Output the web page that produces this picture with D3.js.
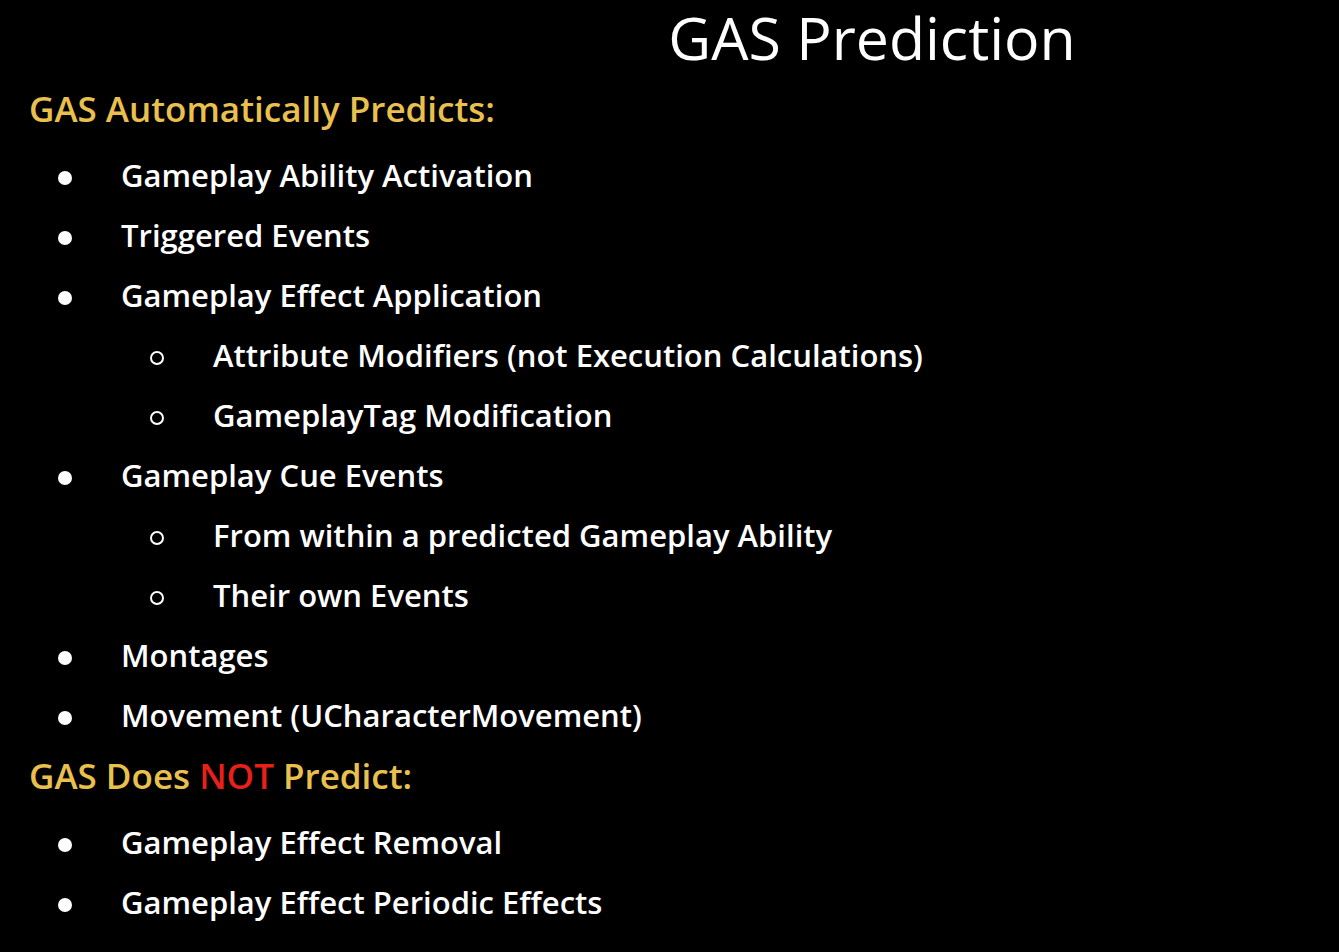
<!DOCTYPE html>
<html><head><meta charset="utf-8">
<script src="https://cdn.jsdelivr.net/npm/d3@7"></script>
<style>body{margin:0;background:#000}svg{display:block}</style>
</head><body>
<script>
const title = "GAS Prediction";
const header1 = ["GAS Automatically Predicts:"];
const items1 = [
  [0,"Gameplay Ability Activation"],
  [0,"Triggered Events"],
  [0,"Gameplay Effect Application"],
  [1,"Attribute Modifiers (not Execution Calculations)"],
  [1,"GameplayTag Modification"],
  [0,"Gameplay Cue Events"],
  [1,"From within a predicted Gameplay Ability"],
  [1,"Their own Events"],
  [0,"Montages"],
  [0,"Movement (UCharacterMovement)"]
];
const header2 = ["GAS Does ","NOT"," Predict:"];
const items2 = [
  [0,"Gameplay Effect Removal"],
  [0,"Gameplay Effect Periodic Effects"]
];

const W=1339,H=952;
const svg=d3.select("body").append("svg").attr("width",W).attr("height",H);
svg.append("rect").attr("width",W).attr("height",H).attr("fill","#000");
const font="Open Sans, sans-serif";
const gold="#e9c04e";
svg.append("text").attr("x",872).attr("y",60).attr("text-anchor","middle")
  .attr("fill","#fff").attr("font-family",font).attr("font-size",59).attr("font-weight",500).text(title);

const rows=[{type:"h",parts:[[header1[0],gold]]}]
  .concat(items1.map(d=>({type:"i",lvl:d[0],t:d[1]})))
  .concat([{type:"h",parts:[[header2[0],gold],[header2[1],"#e8201a"],[header2[2],gold]]}])
  .concat(items2.map(d=>({type:"i",lvl:d[0],t:d[1]})));
const yCenters=[110,176,236,296,356,416,476,536,596,656,716,777,843,903];
const y=d3.scaleOrdinal().domain(d3.range(rows.length)).range(yCenters);

rows.forEach((r,i)=>{
  const cy=y(i);
  if(r.type==="h"){
    const t=svg.append("text").attr("x",29).attr("y",cy+12).attr("font-family",font).attr("font-size",35).attr("font-weight",600);
    r.parts.forEach(p=>t.append("tspan").attr("fill",p[1]).text(p[0]));
  } else {
    if(r.lvl===0){
      svg.append("circle").attr("cx",65).attr("cy",cy+2).attr("r",7).attr("fill","#fff");
    } else {
      svg.append("circle").attr("cx",157).attr("cy",cy+2).attr("r",6).attr("fill","none").attr("stroke","#fff").attr("stroke-width",2);
    }
    svg.append("text").attr("x",r.lvl===0?121:213).attr("y",cy+11).attr("fill","#fff")
      .attr("font-family",font).attr("font-size",31).attr("font-weight",600).text(r.t);
  }
});
</script>
</body></html>
